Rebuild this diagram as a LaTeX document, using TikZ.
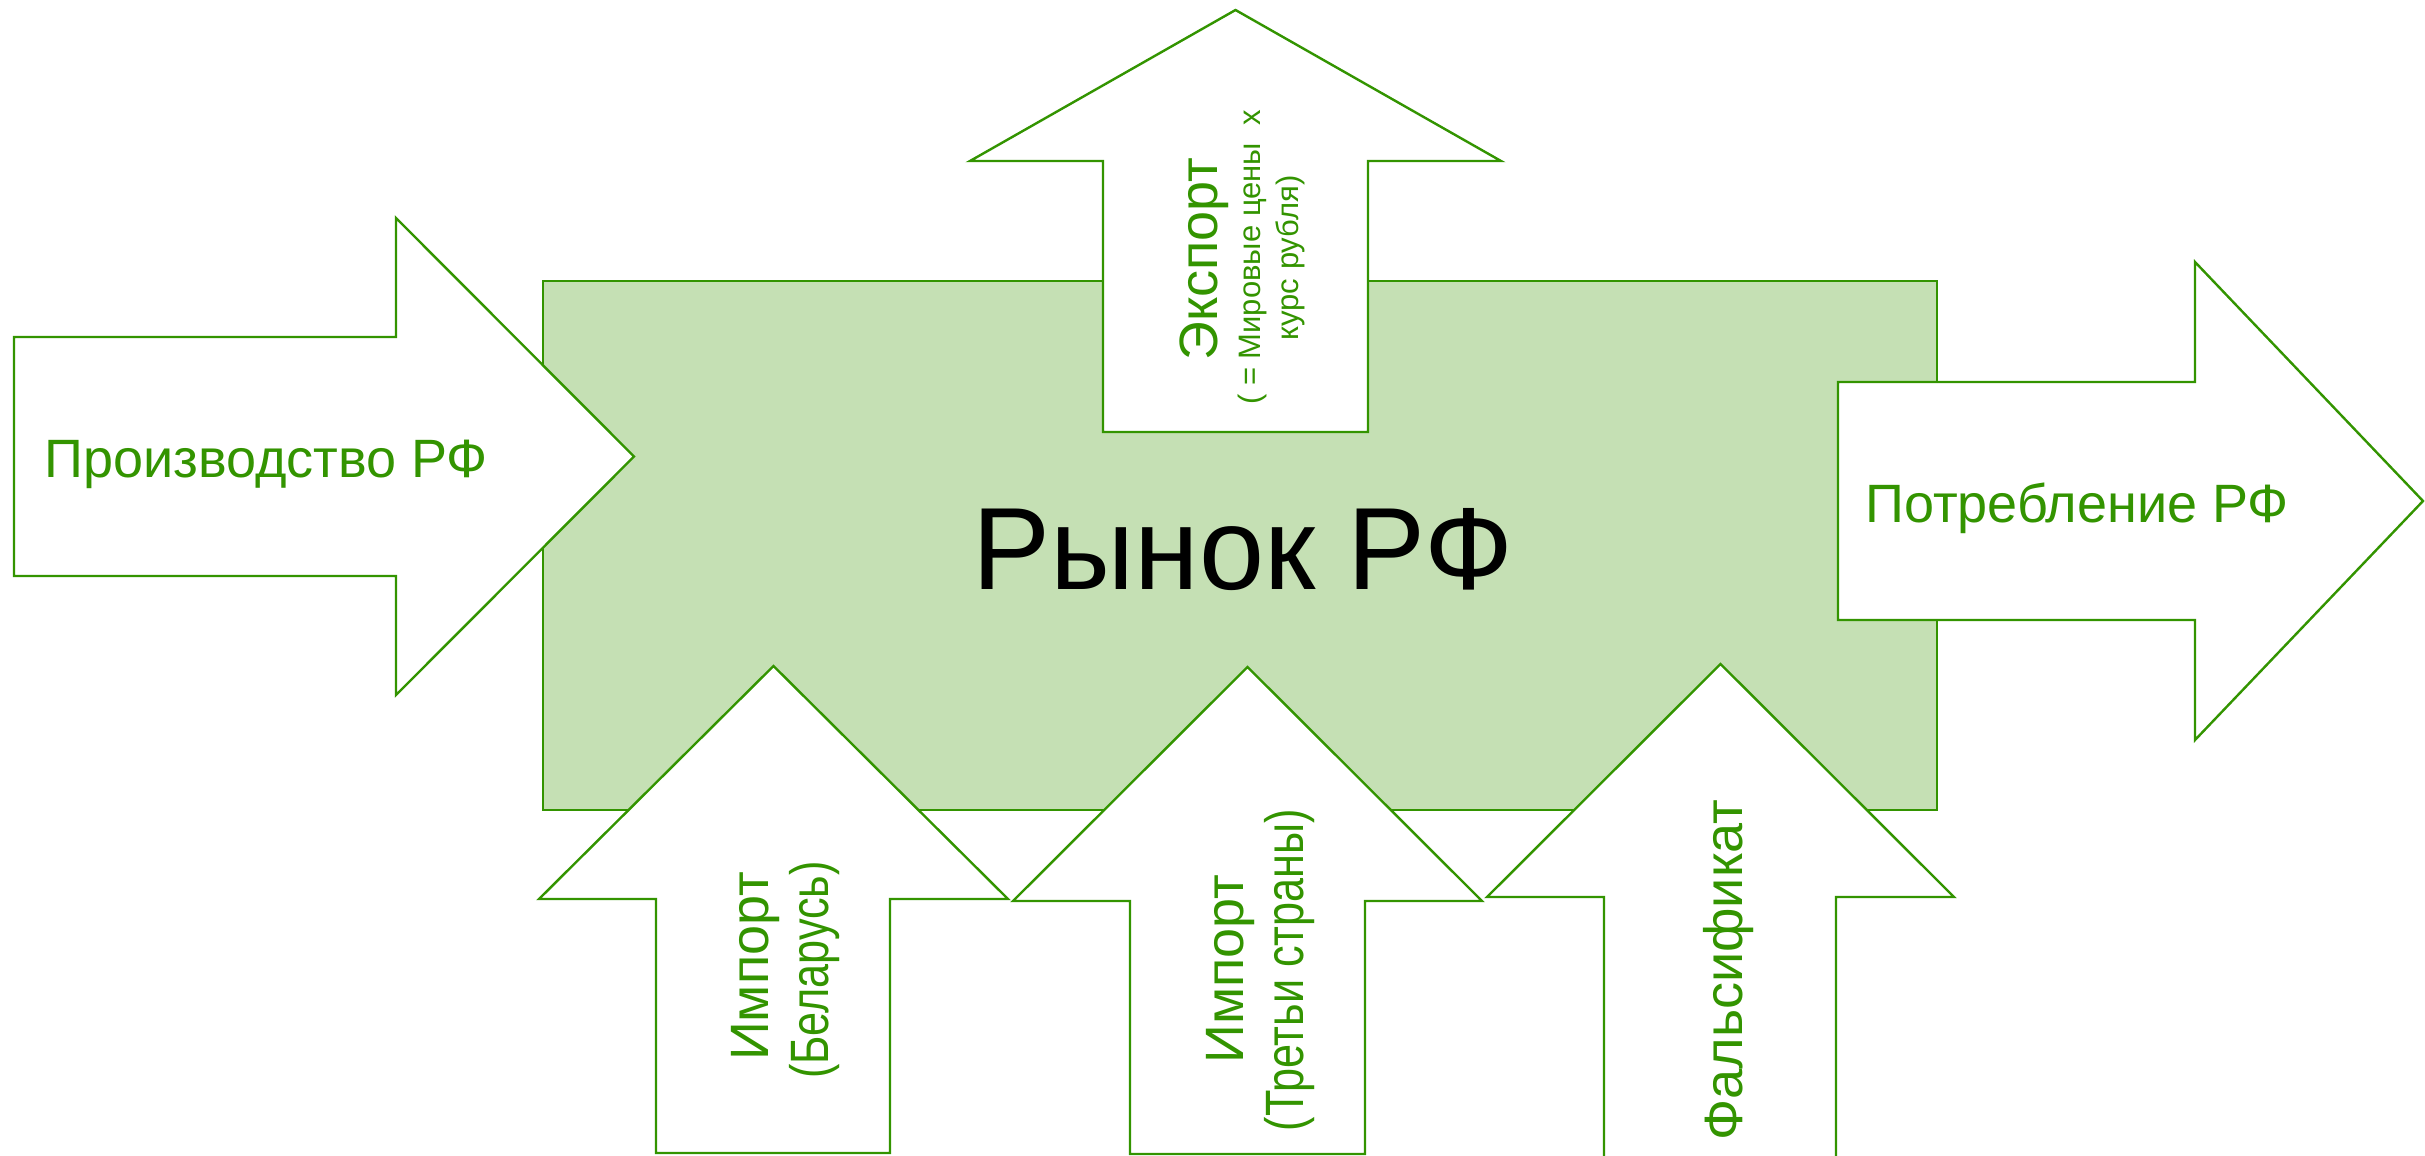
\documentclass[tikz,border=0pt]{standalone}
\usepackage{fontspec}
\setmainfont{Liberation Sans}
\newfontfamily\narrowfont[FakeStretch=0.8]{Liberation Sans}
\definecolor{lgreen}{HTML}{339400}
\definecolor{marketfill}{HTML}{C5E0B4}
\tikzset{
  blockarrow/.style={draw=lgreen, line width=1.2pt, fill=white, line join=miter},
  marketbox/.style={draw=lgreen, line width=1.2pt, fill=marketfill},
  lbl/.style={text=lgreen, inner sep=0pt, font=\fontsize{27}{30}\selectfont},
  sublbl/.style={text=lgreen, inner sep=0pt, font=\fontsize{15.5}{19}\selectfont},
  narrowlbl/.style={text=lgreen, inner sep=0pt, font=\fontsize{27}{30}\selectfont\narrowfont},
}
\begin{document}
\begin{tikzpicture}[x=0.5pt,y=-0.5pt]
\useasboundingbox (0,0) rectangle (2425,1156);
\clip (0,0) rectangle (2425,1156);
% market box
\draw[marketbox] (543,281) rectangle (1937,810);
% production arrow (left)
\draw[blockarrow] (14,337) -- (396,337) -- (396,218) -- (634,456.5) -- (396,695) -- (396,576) -- (14,576) -- cycle;
% export arrow (up)
\draw[blockarrow] (1103,432) -- (1103,161) -- (970,161) -- (1235.5,10) -- (1501,161) -- (1368,161) -- (1368,432) -- cycle;
% consumption arrow (right)
\draw[blockarrow] (1838,382) -- (2195,382) -- (2195,262) -- (2423,501) -- (2195,740) -- (2195,620) -- (1838,620) -- cycle;
% import Belarus
\draw[blockarrow] (656,1153) -- (656,899) -- (539,899) -- (773.5,666) -- (1008,899) -- (890,899) -- (890,1153) -- cycle;
% import third countries
\draw[blockarrow] (1130,1154) -- (1130,901) -- (1013,901) -- (1247.5,667) -- (1482,901) -- (1365,901) -- (1365,1154) -- cycle;
% falsifikat
\draw[blockarrow] (1604,1180) -- (1604,897) -- (1487,897) -- (1720.5,664) -- (1954,897) -- (1836,897) -- (1836,1180) -- cycle;
% texts
\node[inner sep=0pt, anchor=base, font=\fontsize{58.5}{70}\selectfont] (market) at (1243,589) {Рынок РФ};
\node[lbl, anchor=base west] (prod) at (44,477) {Производство РФ};
\node[lbl, anchor=base west] (cons) at (1865,522) {Потребление РФ};
\node[lbl, rotate=90, anchor=base] (exp) at (1217,259) {Экспорт};
\node[sublbl, rotate=90, anchor=base] (expa) at (1260,257.5) {( = Мировые цены~~x};
\node[sublbl, rotate=90, anchor=base] (expb) at (1298,258) {курс рубля)};
\node[lbl, rotate=90, anchor=base] (impby) at (768,966.5) {Импорт};
\node[narrowlbl, rotate=90, anchor=base] (impbysub) at (828,970) {(Беларусь)};
\node[lbl, rotate=90, anchor=base] (imp3) at (1243,969) {Импорт};
\node[narrowlbl, rotate=90, anchor=base] (imp3sub) at (1303,970) {(Третьи страны)};
\node[lbl, rotate=90, anchor=base] (fals) at (1742,970) {Фальсификат};
\end{tikzpicture}
\end{document}
